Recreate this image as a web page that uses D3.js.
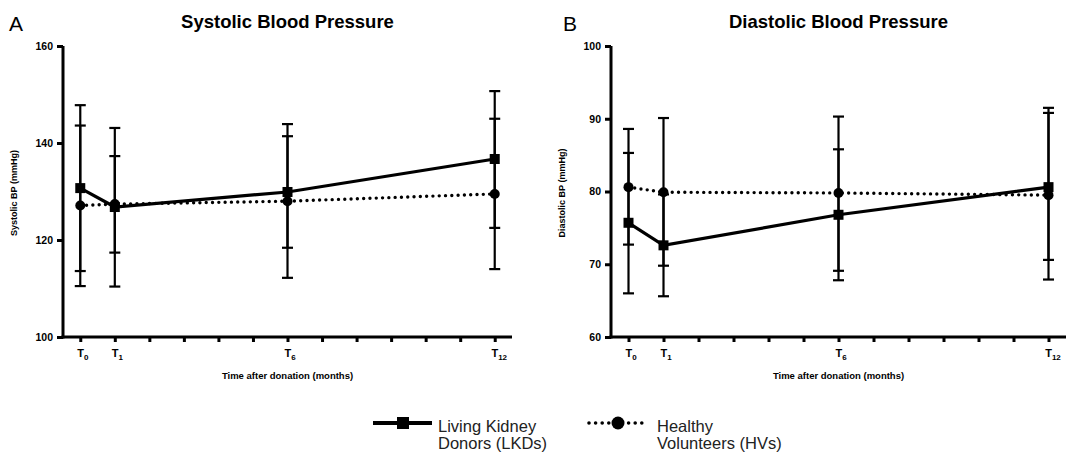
<!DOCTYPE html>
<html>
<head>
<meta charset="utf-8">
<script src="https://cdn.jsdelivr.net/npm/d3@7"></script>
<style>
  body { margin: 0; background: #fff; }
  svg { display: block; font-family: "Liberation Sans", Arial, sans-serif; }
</style>
</head>
<body>
<svg id="chart" width="1068" height="453"></svg>
<script>
// months where measurements were taken
const months = [0, 1, 6, 12];
const monthTicks = d3.range(0, 13);
const tickSubs = { 0: "0", 1: "1", 6: "6", 12: "12" };

// Systolic (mmHg)
const sysLkdMean = [130.7, 126.8, 129.9, 136.7];
const sysLkdHi   = [147.8, 143.1, 141.4, 150.7];
const sysLkdLo   = [113.6, 110.4, 118.4, 122.5];
const sysHvMean  = [127.1, 127.4, 128.0, 129.5];
const sysHvHi    = [143.6, 137.3, 143.9, 145.0];
const sysHvLo    = [110.5, 117.4, 112.2, 114.0];
const sysTicks   = [100, 120, 140, 160];

// Diastolic (mmHg)
const diaLkdMean = [75.7, 72.6, 76.8, 80.6];
const diaLkdHi   = [85.3, 79.6, 85.8, 90.8];
const diaLkdLo   = [66.0, 65.6, 67.8, 70.6];
const diaHvMean  = [80.6, 79.9, 79.8, 79.5];
const diaHvHi    = [88.6, 90.1, 90.3, 91.5];
const diaHvLo    = [72.7, 69.8, 69.1, 67.9];
const diaTicks   = [60, 70, 80, 90, 100];

const svg = d3.select('#chart');
const FONT = '"Liberation Sans", Arial, sans-serif';

function series(mean, hi, lo) {
    return months.map((m, i) => ({ m, v: mean[i], hi: hi[i], lo: lo[i] }));
}

function drawPanel(p) {
    const x = d3.scaleLinear().domain([-0.5, 12.5]).range([p.x0, p.x1]);
    const y = d3.scaleLinear().domain(p.yDomain).range([337, 46]);
    const g = svg.append('g');
    const cx = (p.x0 + p.x1) / 2;

    // panel letter + title
    g.append('text').attr('x', p.letterX).attr('y', 31)
        .attr('font-size', 21).text(p.letter);
    g.append('text').attr('x', cx).attr('y', 28)
        .attr('text-anchor', 'middle').attr('font-size', 18.5).attr('font-weight', 'bold')
        .text(p.title);

    // y axis
    const ya = g.append('g').attr('transform', `translate(${p.x0},0)`)
        .call(d3.axisLeft(y).tickValues(p.yTicks).tickSize(6).tickSizeOuter(0).tickPadding(4));
    ya.select('.domain').attr('stroke-width', 3).attr('d', `M0,${y.range()[0] + 1.5}V${y.range()[1]}`);
    ya.selectAll('.tick line').attr('stroke-width', 3);
    ya.selectAll('.tick text').attr('font-size', 10.5).attr('font-weight', 'bold')
        .attr('font-family', FONT).attr('fill', '#000');

    // x axis
    const xa = g.append('g').attr('transform', `translate(0,337)`)
        .call(d3.axisBottom(x).tickValues(monthTicks).tickSize(5).tickSizeOuter(0).tickPadding(7).tickFormat(''));
    xa.select('.domain').attr('stroke-width', 3).attr('d', `M${p.x0 - 1.5},0H${p.x1}`);
    xa.selectAll('.tick line').attr('stroke-width', 3);
    xa.selectAll('.tick text').each(function (d) {
        if (tickSubs[d] === undefined) return;
        const t = d3.select(this).attr('font-size', 11).attr('font-weight', 'bold')
            .attr('font-family', FONT).attr('fill', '#000')
            .attr('dx', tickSubs[d].length > 1 ? 4 : 2);
        t.append('tspan').text('T');
        t.append('tspan').attr('font-size', 8).attr('dy', 3).text(tickSubs[d]);
    });

    // axis titles
    g.append('text').attr('x', cx).attr('y', 379)
        .attr('text-anchor', 'middle').attr('font-size', 9.5).attr('font-weight', 'bold')
        .text('Time after donation (months)');
    g.append('text')
        .attr('transform', `translate(${p.x0 - 46},193) rotate(-90)`)
        .attr('text-anchor', 'middle').attr('font-size', 9).attr('font-weight', 'bold')
        .text(p.yLabel);

    const all = [p.hv, p.lkd];

    // error bars
    all.forEach(s => {
        const eb = g.append('g').attr('stroke', '#000').attr('stroke-width', 2.2);
        eb.selectAll('line.v').data(s).join('line')
            .attr('x1', d => x(d.m)).attr('x2', d => x(d.m))
            .attr('y1', d => y(d.hi)).attr('y2', d => y(d.lo));
        ['hi', 'lo'].forEach(k => {
            eb.selectAll('line.' + k).data(s).join('line').attr('class', k)
                .attr('x1', d => x(d.m) - 5.5).attr('x2', d => x(d.m) + 5.5)
                .attr('y1', d => y(d[k])).attr('y2', d => y(d[k]));
        });
    });

    const line = d3.line().x(d => x(d.m)).y(d => y(d.v));

    // HV dotted
    g.append('path').datum(p.hv).attr('d', line).attr('fill', 'none')
        .attr('stroke', '#000').attr('stroke-width', 3.4)
        .attr('stroke-linecap', 'round').attr('stroke-dasharray', '0 6.3');
    g.selectAll('circle.hv').data(p.hv).join('circle').attr('class', 'hv')
        .attr('cx', d => x(d.m)).attr('cy', d => y(d.v)).attr('r', 5);

    // LKD solid
    g.append('path').datum(p.lkd).attr('d', line).attr('fill', 'none')
        .attr('stroke', '#000').attr('stroke-width', 3.2);
    g.selectAll('rect.lkd').data(p.lkd).join('rect').attr('class', 'lkd')
        .attr('x', d => x(d.m) - 5).attr('y', d => y(d.v) - 5)
        .attr('width', 10).attr('height', 10);
}

drawPanel({
    letter: 'A', letterX: 9, title: 'Systolic Blood Pressure',
    x0: 63, x1: 512, yDomain: [100, 160], yTicks: sysTicks,
    yLabel: 'Systolic BP (mmHg)',
    lkd: series(sysLkdMean, sysLkdHi, sysLkdLo),
    hv: series(sysHvMean, sysHvHi, sysHvLo)
});

drawPanel({
    letter: 'B', letterX: 563, title: 'Diastolic Blood Pressure',
    x0: 611, x1: 1066, yDomain: [60, 100], yTicks: diaTicks,
    yLabel: 'Diastolic BP (mmHg)',
    lkd: series(diaLkdMean, diaLkdHi, diaLkdLo),
    hv: series(diaHvMean, diaHvHi, diaHvLo)
});

// legend
const leg = svg.append('g');
leg.append('line').attr('x1', 373).attr('x2', 432).attr('y1', 423).attr('y2', 423)
    .attr('stroke', '#000').attr('stroke-width', 4);
leg.append('rect').attr('x', 397).attr('y', 417).attr('width', 12).attr('height', 12);
leg.append('line').attr('x1', 589).attr('x2', 642).attr('y1', 423).attr('y2', 423)
    .attr('stroke', '#000').attr('stroke-width', 3.6).attr('stroke-linecap', 'round')
    .attr('stroke-dasharray', '0 6.6');
leg.append('circle').attr('cx', 618).attr('cy', 423).attr('r', 6.5);

const legText = [
    { x: 438, lines: ['Living Kidney', 'Donors (LKDs)'] },
    { x: 657, lines: ['Healthy', 'Volunteers (HVs)'] }
];
legText.forEach(t => {
    const tx = leg.append('text').attr('x', t.x).attr('y', 432).attr('font-size', 16.5).attr('fill', '#222');
    t.lines.forEach((l, i) => tx.append('tspan').attr('x', t.x).attr('dy', i ? 17 : 0).text(l));
});
</script>
</body>
</html>
